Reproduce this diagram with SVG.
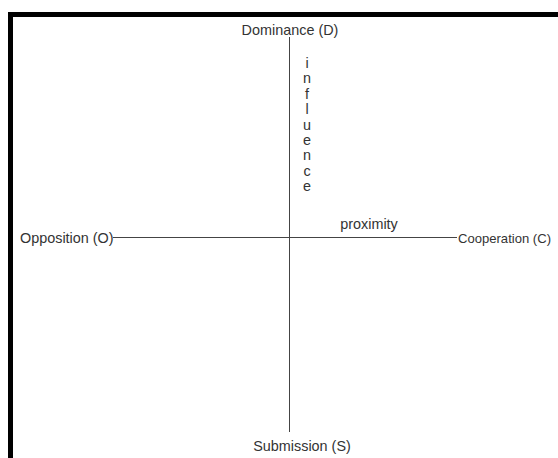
<svg xmlns="http://www.w3.org/2000/svg" width="558" height="458" viewBox="0 0 558 458">
<style>
text{font-family:"Liberation Sans",Arial,sans-serif;font-size:14.4px;fill:#333}
.ax{stroke:#444;stroke-width:1;fill:none}
.mid{text-anchor:middle}
</style>
<rect width="558" height="458" fill="#fff"/>
<path d="M10.5,470 V14.5 H570" stroke="#000" stroke-width="5" fill="none"/>
<g id="connectors">
<line class="ax" x1="289.5" y1="37" x2="289.5" y2="432"/>
<line class="ax" x1="113" y1="237.5" x2="457" y2="237.5"/>
</g>
<g id="dominance"><text class="mid" x="290" y="35">Dominance (D)</text></g>
<g id="opposition"><text x="20" y="243">Opposition (O)</text></g>
<g id="cooperation"><text x="458" y="243" style="font-size:13.6px" textLength="93" lengthAdjust="spacingAndGlyphs">Cooperation (C)</text></g>
<g id="submission"><text class="mid" x="302" y="451">Submission (S)</text></g>
<g id="proximity"><text class="mid" x="369" y="229">proximity</text></g>
<g id="influence"><text class="mid" x="307" y="68">i</text><text class="mid" x="307" y="83.4">n</text><text class="mid" x="307" y="98.8">f</text><text class="mid" x="307" y="114.2">l</text><text class="mid" x="307" y="129.6">u</text><text class="mid" x="307" y="145">e</text><text class="mid" x="307" y="160.4">n</text><text class="mid" x="307" y="175.8">c</text><text class="mid" x="307" y="191.2">e</text></g>
</svg>
